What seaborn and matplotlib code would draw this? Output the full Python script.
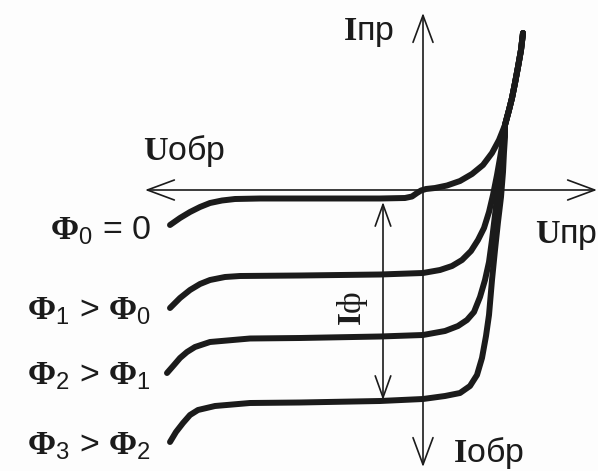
import matplotlib
matplotlib.use("Agg")
import matplotlib.pyplot as plt
import pandas as pd
import seaborn as sns

# Photodiode current-voltage family, drawn in schematic units:
# origin at the axes crossing, forward voltage to the right, forward current up.
u_phi0 = [-253, -243, -233, -223, -213, -201, -188, -163, -123, -43, -18, -11,
          -6, -2, 3, 12, 24, 37, 49, 60, 69, 76]
i_phi0 = [-35, -28, -22, -17, -13, -10.5, -9, -8.5, -8.5, -8.5, -8, -6.5,
          -3, -0.5, 1, 2, 4.5, 9, 16, 25, 37, 50]

u_phi1 = [-253, -243, -233, -223, -213, -198, -183, -123, -43, 0, 17, 29,
          39, 48, 55, 61, 66, 70, 74, 77, 80]
i_phi1 = [-118, -108, -100, -94, -90, -87, -86, -85.5, -84.5, -83, -80, -76,
          -70, -61, -50, -38, -22, -5, 15, 32, 50]

u_phi2 = [-256, -249, -243, -236, -228, -213, -173, -123, -43, 0, 22, 35,
          44, 51, 57, 62, 66, 69, 72, 74, 77, 79, 81]
i_phi2 = [-183, -175, -168, -162, -157, -152, -148.5, -148, -146.5, -145, -141,
          -136, -130, -122, -107, -90, -72, -50, -25, -7, 15, 35, 52]

u_phi3 = [-253, -247, -240, -233, -225, -208, -173, -123, -43, 0, 22, 37,
          47, 54, 59, 63, 66, 69, 72, 75, 78, 80, 81, 82]
i_phi3 = [-252, -242, -233, -225, -220, -216, -213, -212.5, -211, -209, -206,
          -203, -196, -185, -168, -146, -125, -90, -60, -32, -7, 18, 38, 53]

# common forward branch that all curves merge into
u_forward = [82, 86, 89, 92, 95, 98, 100]
i_forward = [65, 80, 92, 107, 123, 140, 157]

curve_names = ["Φ0", "Φ1", "Φ2", "Φ3"]

# photocurrent Iф between dark curve and the highest illumination
iph_u = -40
iph_top = -12
iph_bottom = -210

frames = []
for name, u, i in zip(curve_names,
                      [u_phi0, u_phi1, u_phi2, u_phi3],
                      [i_phi0, i_phi1, i_phi2, i_phi3]):
    frames.append(pd.DataFrame({"U": u + u_forward, "I": i + i_forward,
                                "curve": name,
                                "order": range(len(u) + len(u_forward))}))
df = pd.concat(frames, ignore_index=True)

sns.set_theme(style="white")
plt.rcParams["font.family"] = ["Liberation Sans", "DejaVu Sans"]
plt.rcParams["mathtext.fontset"] = "custom"
plt.rcParams["mathtext.rm"] = "Liberation Sans"
plt.rcParams["mathtext.bf"] = "Liberation Serif:bold"
plt.rcParams["mathtext.it"] = "Liberation Sans:italic"

ink = "#1b1b1b"
fig = plt.figure(figsize=(5.98, 4.71), dpi=100, facecolor="#fdfdfd")
ax = fig.add_axes([0, 0, 1, 1])
ax.set_facecolor("#fdfdfd")
ax.set_xlim(-423, 175)
ax.set_ylim(-281, 190)
ax.axis("off")

# coordinate axes with open arrowheads
axis_arrow = dict(arrowstyle="<->,head_length=0.97,head_width=0.36",
                  mutation_scale=20, color=ink, lw=1.2,
                  shrinkA=0, shrinkB=0)
ax.annotate("", xy=(-278, 0), xytext=(174, 0), arrowprops=axis_arrow)
ax.annotate("", xy=(0, 177), xytext=(0, -277), arrowprops=axis_arrow)

sns.lineplot(data=df, x="U", y="I", units="curve", estimator=None,
             sort=False, color=ink, linewidth=4.3, legend=False, ax=ax,
             solid_capstyle="round", solid_joinstyle="round")

# photocurrent dimension arrow
ax.annotate("", xy=(iph_u, iph_top), xytext=(iph_u, iph_bottom),
            arrowprops=dict(arrowstyle="<->,head_length=0.78,head_width=0.28",
                            mutation_scale=20, color=ink, lw=1.2,
                            shrinkA=0, shrinkB=0))
ax.text(-70, -118, r"$\mathbf{I}$ф", rotation=90, ha="center", va="center",
        fontsize=24, color=ink, family=["Liberation Serif", "DejaVu Serif"])

fs = 24.5
ax.text(-80, 150, r"$\mathbf{I}$пр", ha="left", va="baseline",
        fontsize=fs, color=ink)
ax.text(-280, 30, r"$\mathbf{U}$обр", ha="left", va="baseline",
        fontsize=fs, color=ink)
ax.text(112, -53, r"$\mathbf{U}$пр", ha="left", va="baseline",
        fontsize=fs, color=ink)
ax.text(30, -272, r"$\mathbf{I}$обр", ha="left", va="baseline",
        fontsize=fs, color=ink)

flux_labels = [r"$\mathbf{Φ}_\mathrm{0}$ = 0",
               r"$\mathbf{Φ}_\mathrm{1}$ > $\mathbf{Φ}_\mathrm{0}$",
               r"$\mathbf{Φ}_\mathrm{2}$ > $\mathbf{Φ}_\mathrm{1}$",
               r"$\mathbf{Φ}_\mathrm{3}$ > $\mathbf{Φ}_\mathrm{2}$"]
flux_baselines = [-50, -130, -195, -265]
for text, yb in zip(flux_labels, flux_baselines):
    ax.text(-272, yb, text, ha="right", va="baseline", fontsize=fs, color=ink)

fig.savefig("out.png", dpi=100, facecolor=fig.get_facecolor())
